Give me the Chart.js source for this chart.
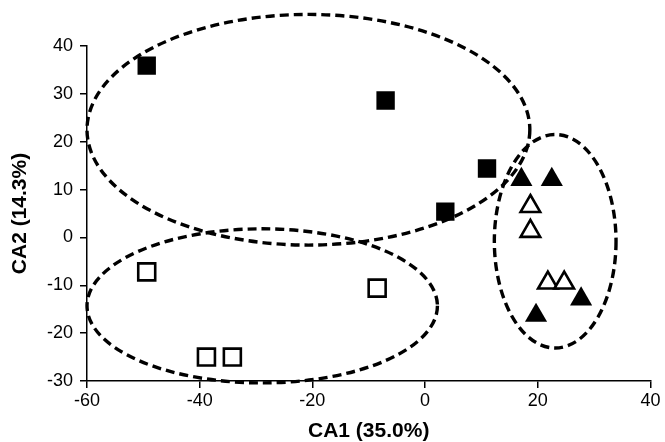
<!DOCTYPE html>
<html>
<head>
<meta charset="utf-8">
<script src="https://cdn.jsdelivr.net/npm/chart.js@4/dist/chart.umd.min.js"></script>
<style>
  body { margin: 0; background: #fff; }
</style>
</head>
<body>
<canvas id="ca-chart" width="665" height="442"></canvas>
<script>
// group A, filled squares
var filledSqX = [-49.4, -7.0, 11.0, 3.6];
var filledSqY = [35.9, 28.6, 14.4, 5.4];
// group B, open squares
var openSqX = [-49.4, -8.5, -38.8, -34.2];
var openSqY = [-7.2, -10.6, -25.0, -25.0];
// group C, filled triangles
var filledTriX = [17.1, 22.5, 27.7, 19.7];
var filledTriY = [12.1, 12.1, -12.9, -16.3];
// group D, open triangles
var openTriX = [18.7, 18.7, 21.8, 24.7];
var openTriY = [6.5, 1.3, -9.5, -9.5];

var xTicks = [-60, -40, -20, 0, 20, 40];
var yTicks = [-30, -20, -10, 0, 10, 20, 30, 40];

// dashed group outlines: centre x, centre y, half width, half height (axis units)
var ellipseCx = [-20.7, -28.9, 23.1];
var ellipseCy = [22.5, -14.3, -0.8];
var ellipseRx = [39.3, 31.1, 10.8];
var ellipseRy = [24.1, 16.1, 22.3];

function toPoints(xs, ys) {
    var pts = [];
    for (var i in xs) {
        pts.push({ x: xs[i], y: ys[i] });
    }
    return pts;
}

var ellipsePlugin = {
    id: 'groupEllipses',
    afterDraw: function (chart) {
        var ctx = chart.ctx;
        var xs = chart.scales.x;
        var ys = chart.scales.y;
        ctx.save();
        ctx.strokeStyle = '#000';
        ctx.lineWidth = 3.4;
        ctx.setLineDash([9, 5]);
        for (var i = 0; i < ellipseCx.length; i++) {
            var cx = xs.getPixelForValue(ellipseCx[i]);
            var cy = ys.getPixelForValue(ellipseCy[i]);
            var rx = Math.abs(xs.getPixelForValue(ellipseCx[i] + ellipseRx[i]) - cx);
            var ry = Math.abs(ys.getPixelForValue(ellipseCy[i] + ellipseRy[i]) - cy);
            ctx.beginPath();
            ctx.ellipse(cx, cy, rx, ry, 0, 0, Math.PI * 2);
            ctx.stroke();
        }
        ctx.restore();
    }
};

var tickFont = { family: 'Liberation Sans, Arial, sans-serif', size: 18 };
var titleFont = { family: 'Liberation Sans, Arial, sans-serif', size: 21, weight: 'bold', lineHeight: 1 };

var ctx = document.getElementById('ca-chart');

var myChart = new Chart(ctx, {
    type: 'scatter',
    data: {
        datasets: [
            {
                label: 'filled squares',
                data: toPoints(filledSqX, filledSqY),
                pointStyle: 'rect',
                radius: 13,
                backgroundColor: '#000',
                borderColor: '#000',
                borderWidth: 0
            }, {
                label: 'open squares',
                data: toPoints(openSqX, openSqY),
                pointStyle: 'rect',
                radius: 12,
                backgroundColor: '#fff',
                borderColor: '#000',
                borderWidth: 2.6
            }, {
                label: 'filled triangles',
                data: toPoints(filledTriX, filledTriY),
                pointStyle: 'triangle',
                radius: 12.8,
                backgroundColor: '#000',
                borderColor: '#000',
                borderWidth: 0
            }, {
                label: 'open triangles',
                data: toPoints(openTriX, openTriY),
                pointStyle: 'triangle',
                radius: 11.3,
                backgroundColor: '#fff',
                borderColor: '#000',
                borderWidth: 2.6
            }
        ]
    },
    options: {
        responsive: false,
        animation: false,
        events: [],
        layout: { padding: { top: 46, right: 12, left: 0, bottom: 0 } },
        plugins: {
            legend: { display: false },
            tooltip: { enabled: false }
        },
        scales: {
            x: {
                type: 'linear',
                min: -60,
                max: 40,
                afterBuildTicks: function (scale) {
                    scale.ticks = xTicks.map(function (v) { return { value: v }; });
                },
                afterFit: function (scale) { scale.height = 61; },
                grid: { display: true, drawOnChartArea: false, drawTicks: true, tickLength: 7, color: '#000', lineWidth: 1.5 },
                border: { display: true, color: '#000', width: 1.5 },
                ticks: { color: '#000', font: tickFont, padding: 2, maxRotation: 0 },
                title: { display: true, text: 'CA1 (35.0%)', color: '#000', font: titleFont, padding: 0 }
            },
            y: {
                type: 'linear',
                min: -30,
                max: 40,
                afterBuildTicks: function (scale) {
                    scale.ticks = yTicks.map(function (v) { return { value: v }; });
                },
                afterFit: function (scale) { scale.width = 87; },
                grid: { display: true, drawOnChartArea: false, drawTicks: true, tickLength: 7, color: '#000', lineWidth: 1.5 },
                border: { display: true, color: '#000', width: 1.5 },
                ticks: { color: '#000', font: tickFont, padding: 7 },
                title: { display: true, text: 'CA2 (14.3%)', color: '#000', font: titleFont, padding: { top: 10, bottom: 0 } }
            }
        }
    },
    plugins: [ellipsePlugin]
});
</script>
</body>
</html>
